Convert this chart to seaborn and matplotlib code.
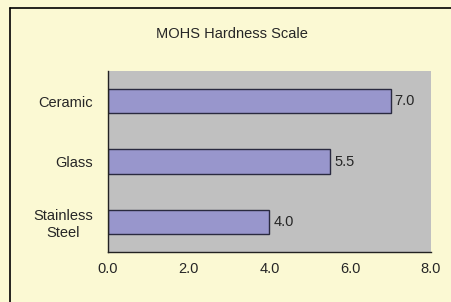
import matplotlib
matplotlib.use("Agg")
import matplotlib.pyplot as plt
import seaborn as sns
import pandas as pd
from matplotlib.lines import Line2D

categories = ["Ceramic", "Glass", "Stainless\nSteel"]
values = [7.0, 5.5, 4.0]
xticks = [0, 2, 4, 6, 8]
xticklabels = ["0.0", "2.0", "4.0", "6.0", "8.0"]

sns.set_style("white")
plt.rcParams['font.family'] = ['Liberation Sans', 'DejaVu Sans']

FS = 10.5
TXT = "#262626"

fig = plt.figure(figsize=(4.52, 3.02), dpi=100)
fig.patch.set_facecolor("#FBF9D3")
ax = fig.add_axes([108/452, 1-252/302, (431-108)/452, (252-71)/302])
ax.set_facecolor("#C0C0C0")

df = pd.DataFrame({"cat": categories, "val": values})
sns.barplot(data=df, x="val", y="cat", orient="h", color="#9896CC",
            width=0.4, edgecolor="#2a2a40", linewidth=1.0, saturation=1, ax=ax)

ax.set_xlim(0, 8)
ax.set_ylim(2.5, -0.5)
ax.set_xticks(xticks)
ax.set_xticklabels(xticklabels, fontsize=FS, color=TXT)
ax.set_yticks(range(len(categories)))
ax.set_yticklabels(categories, fontsize=FS, color=TXT, multialignment="center")
ax.set_yticks([-0.5, 0.5, 1.5, 2.5], minor=True)
ax.tick_params(axis="y", which="major", length=0, pad=11)
ax.tick_params(axis="y", which="minor", length=3, width=1, color="#222222", direction="out")
ax.tick_params(axis="x", which="major", length=3, width=1, color="#222222", direction="out", pad=4)
ax.set_xlabel("")
ax.set_ylabel("")
for s in ["top", "right"]:
    ax.spines[s].set_visible(False)
for s in ["left", "bottom"]:
    ax.spines[s].set_color("#222222")
    ax.spines[s].set_linewidth(1)

for i, v in enumerate(values):
    ax.text(v + 0.1, i, f"{v:.1f}", va="center", ha="left", fontsize=FS, color=TXT)

fig.text(232/452, 1-34/302, "MOHS Hardness Scale", ha="center", va="center",
         fontsize=FS, color=TXT)

bx = 10/452
by = 1 - 7.5/302
fig.lines.append(Line2D([bx, bx], [0, by], transform=fig.transFigure, color="black", linewidth=1.2))
fig.lines.append(Line2D([bx, 1], [by, by], transform=fig.transFigure, color="black", linewidth=1.2))

fig.savefig("out.png", dpi=100, facecolor=fig.get_facecolor())
